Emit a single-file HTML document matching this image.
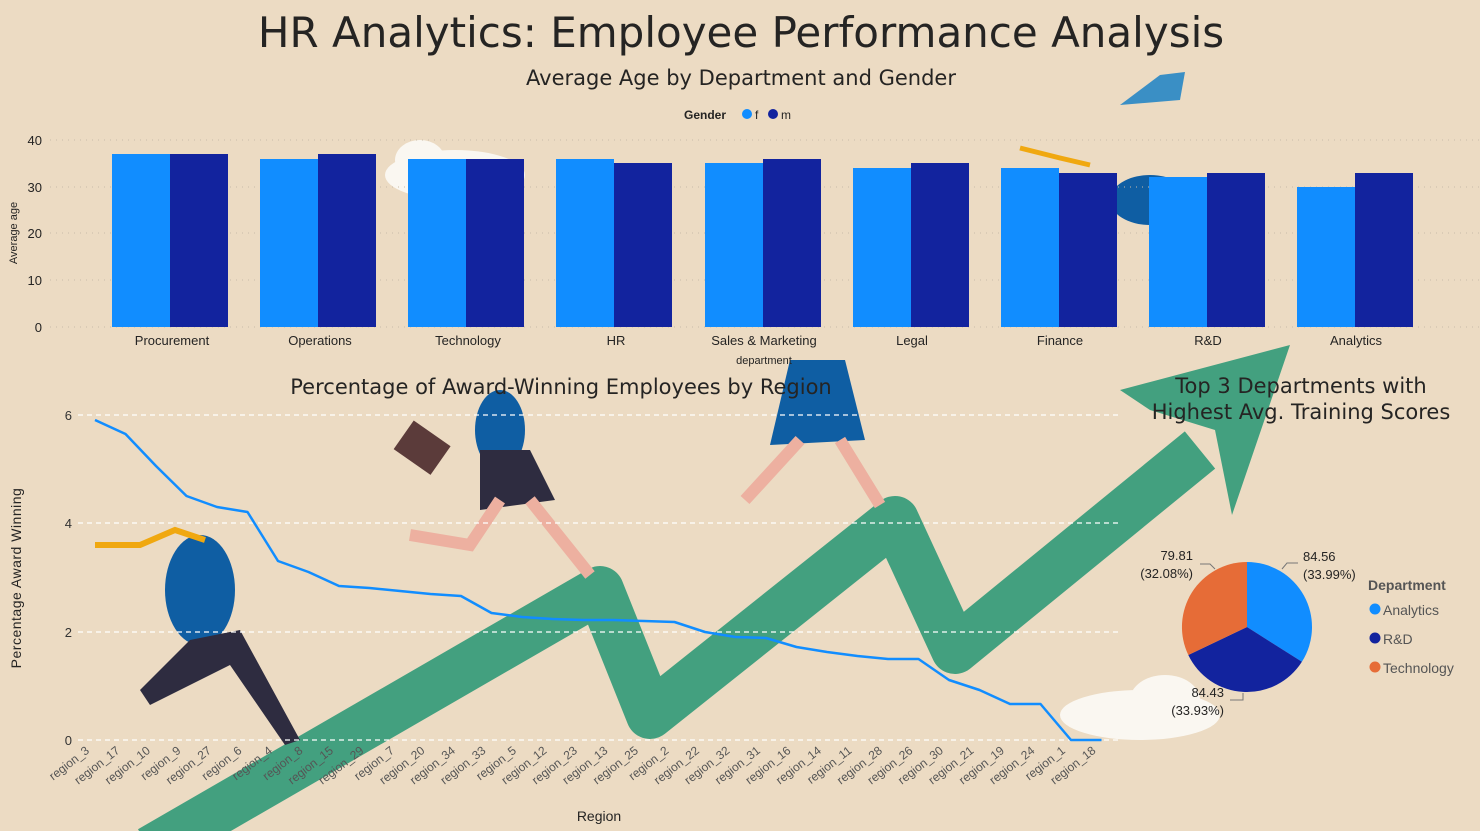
<!DOCTYPE html>
<html><head><meta charset="utf-8"><style>
body{margin:0;background:#ecdbc3;}
svg{display:block;font-family:"Liberation Sans","DejaVu Sans",sans-serif;}
.t{font-family:"DejaVu Sans",sans-serif;}
</style></head><body>
<svg width="1480" height="831" viewBox="0 0 1480 831" xmlns="http://www.w3.org/2000/svg">
<rect width="1480" height="831" fill="#ecdbc3"/>
<polyline points="150,850 600,590 650,715 895,520 955,650 1200,450" fill="none" stroke="#43a07f" stroke-width="48" stroke-linejoin="round"/>
<polygon points="1120,390 1290,345 1232,515 1215,430 1150,410" fill="#43a07f"/>
<ellipse cx="1140" cy="715" rx="80" ry="25" fill="#faf7f1"/>
<ellipse cx="1165" cy="700" rx="35" ry="25" fill="#faf7f1"/>
<ellipse cx="455" cy="175" rx="70" ry="25" fill="#faf7f1"/>
<ellipse cx="420" cy="160" rx="25" ry="20" fill="#faf7f1"/>
<g fill="#0f5ea3"><ellipse cx="200" cy="590" rx="35" ry="55"/><ellipse cx="500" cy="430" rx="25" ry="40"/><polygon points="790,360 845,360 865,440 770,445"/><ellipse cx="1150" cy="200" rx="40" ry="25"/></g>
<g fill="#2e2c40"><polygon points="190,640 240,630 300,740 285,745 230,665 150,705 140,690"/><polygon points="480,450 530,450 555,500 480,510"/></g>
<g stroke="#edb0a0" stroke-width="12" fill="none"><polyline points="500,500 470,545 410,535"/><polyline points="530,500 590,575"/><polyline points="800,440 745,500"/><polyline points="840,440 880,505"/></g>
<rect x="400" y="430" width="45" height="35" fill="#5b3b3a" transform="rotate(35 422 447)"/>
<polyline points="95,545 140,545 175,530 205,540" fill="none" stroke="#f0a810" stroke-width="6"/>
<polyline points="1020,148 1060,158 1090,165" fill="none" stroke="#f0a810" stroke-width="5"/>
<polygon points="1160,75 1185,72 1180,100 1120,105" fill="#3a8fc5"/>

<text class="t" x="741" y="47" font-size="42" text-anchor="middle" fill="#252423">HR Analytics: Employee Performance Analysis</text>
<text class="t" x="741" y="85" font-size="21" text-anchor="middle" fill="#252423">Average Age by Department and Gender</text>
<text x="684" y="119" font-size="12" font-weight="bold" fill="#252423">Gender</text>
<circle cx="747" cy="114" r="5" fill="#118dff"/><text x="755" y="119" font-size="12" fill="#252423">f</text>
<circle cx="773" cy="114" r="5" fill="#12239e"/><text x="781" y="119" font-size="12" fill="#252423">m</text>
<g stroke="#c8bba8" stroke-dasharray="1,5"><line x1="50" x2="1480" y1="140" y2="140"/><line x1="50" x2="1480" y1="187" y2="187"/><line x1="50" x2="1480" y1="233" y2="233"/><line x1="50" x2="1480" y1="280" y2="280"/><line x1="50" x2="1480" y1="327" y2="327"/></g>
<g font-size="13" fill="#252423" text-anchor="end"><text x="42" y="145">40</text><text x="42" y="192">30</text><text x="42" y="238">20</text><text x="42" y="285">10</text><text x="42" y="332">0</text></g>
<text transform="translate(17,233) rotate(-90)" font-size="11" text-anchor="middle" fill="#252423">Average age</text>
<g>
<rect x="112" y="154" width="58" height="173" fill="#118dff"/><rect x="170" y="154" width="58" height="173" fill="#12239e"/>
<rect x="260" y="159" width="58" height="168" fill="#118dff"/><rect x="318" y="154" width="58" height="173" fill="#12239e"/>
<rect x="408" y="159" width="58" height="168" fill="#118dff"/><rect x="466" y="159" width="58" height="168" fill="#12239e"/>
<rect x="556" y="159" width="58" height="168" fill="#118dff"/><rect x="614" y="163" width="58" height="164" fill="#12239e"/>
<rect x="705" y="163" width="58" height="164" fill="#118dff"/><rect x="763" y="159" width="58" height="168" fill="#12239e"/>
<rect x="853" y="168" width="58" height="159" fill="#118dff"/><rect x="911" y="163" width="58" height="164" fill="#12239e"/>
<rect x="1001" y="168" width="58" height="159" fill="#118dff"/><rect x="1059" y="173" width="58" height="154" fill="#12239e"/>
<rect x="1149" y="177" width="58" height="150" fill="#118dff"/><rect x="1207" y="173" width="58" height="154" fill="#12239e"/>
<rect x="1297" y="187" width="58" height="140" fill="#118dff"/><rect x="1355" y="173" width="58" height="154" fill="#12239e"/>
</g>
<g font-size="13" fill="#252423" text-anchor="middle">
<text x="172" y="345">Procurement</text><text x="320" y="345">Operations</text><text x="468" y="345">Technology</text><text x="616" y="345">HR</text><text x="764" y="345">Sales &amp; Marketing</text><text x="912" y="345">Legal</text><text x="1060" y="345">Finance</text><text x="1208" y="345">R&amp;D</text><text x="1356" y="345">Analytics</text>
</g>
<text x="764" y="364" font-size="11" text-anchor="middle" fill="#252423">department</text>

<text class="t" x="561" y="394" font-size="21" text-anchor="middle" fill="#252423">Percentage of Award-Winning Employees by Region</text>
<g stroke="#ffffff" stroke-dasharray="5,4" stroke-width="1.2"><line x1="78" x2="1118" y1="415" y2="415"/><line x1="78" x2="1118" y1="523" y2="523"/><line x1="78" x2="1118" y1="632" y2="632"/><line x1="78" x2="1118" y1="740" y2="740"/></g>
<g font-size="13" fill="#333" text-anchor="end"><text x="72" y="420">6</text><text x="72" y="528">4</text><text x="72" y="637">2</text><text x="72" y="745">0</text></g>
<text transform="translate(21,578) rotate(-90)" font-size="14" text-anchor="middle" fill="#252423" letter-spacing="0.5">Percentage Award Winning</text>
<polyline fill="none" stroke="#118dff" stroke-width="2.5" stroke-linejoin="round" points="95,420 125.5,434 156,466 186.5,496 217,507 247.5,512 278,561 308.5,572 339,586 369.5,588 400,591 430.5,594 461,596 491.5,613 522,617 552.5,619 583,620 613.5,620 644,621 674.5,622 705,632 735.5,637 766,638 796.5,647 827,652 857.5,656 888,659 918.5,659 949,680 979.5,690 1010,704 1040.5,704 1071,740 1101.5,740"/>
<g font-size="12" fill="#555" text-anchor="end">
<text transform="translate(90,752) rotate(-38)">region_3</text>
<text transform="translate(120.5,752) rotate(-38)">region_17</text>
<text transform="translate(151,752) rotate(-38)">region_10</text>
<text transform="translate(181.5,752) rotate(-38)">region_9</text>
<text transform="translate(212,752) rotate(-38)">region_27</text>
<text transform="translate(242.5,752) rotate(-38)">region_6</text>
<text transform="translate(273,752) rotate(-38)">region_4</text>
<text transform="translate(303.5,752) rotate(-38)">region_8</text>
<text transform="translate(334,752) rotate(-38)">region_15</text>
<text transform="translate(364.5,752) rotate(-38)">region_29</text>
<text transform="translate(395,752) rotate(-38)">region_7</text>
<text transform="translate(425.5,752) rotate(-38)">region_20</text>
<text transform="translate(456,752) rotate(-38)">region_34</text>
<text transform="translate(486.5,752) rotate(-38)">region_33</text>
<text transform="translate(517,752) rotate(-38)">region_5</text>
<text transform="translate(547.5,752) rotate(-38)">region_12</text>
<text transform="translate(578,752) rotate(-38)">region_23</text>
<text transform="translate(608.5,752) rotate(-38)">region_13</text>
<text transform="translate(639,752) rotate(-38)">region_25</text>
<text transform="translate(669.5,752) rotate(-38)">region_2</text>
<text transform="translate(700,752) rotate(-38)">region_22</text>
<text transform="translate(730.5,752) rotate(-38)">region_32</text>
<text transform="translate(761,752) rotate(-38)">region_31</text>
<text transform="translate(791.5,752) rotate(-38)">region_16</text>
<text transform="translate(822,752) rotate(-38)">region_14</text>
<text transform="translate(852.5,752) rotate(-38)">region_11</text>
<text transform="translate(883,752) rotate(-38)">region_28</text>
<text transform="translate(913.5,752) rotate(-38)">region_26</text>
<text transform="translate(944,752) rotate(-38)">region_30</text>
<text transform="translate(974.5,752) rotate(-38)">region_21</text>
<text transform="translate(1005,752) rotate(-38)">region_19</text>
<text transform="translate(1035.5,752) rotate(-38)">region_24</text>
<text transform="translate(1066,752) rotate(-38)">region_1</text>
<text transform="translate(1096.5,752) rotate(-38)">region_18</text>
</g>
<text x="599" y="821" font-size="14" text-anchor="middle" fill="#252423">Region</text>

<text class="t" x="1301" y="393" font-size="21" text-anchor="middle" fill="#252423">Top 3 Departments with</text>
<text class="t" x="1301" y="419" font-size="21" text-anchor="middle" fill="#252423">Highest Avg. Training Scores</text>
<path d="M1247,627 L1247,562 A65,65 0 0 1 1301.9,661.8 Z" fill="#118dff"/>
<path d="M1247,627 L1301.9,661.8 A65,65 0 0 1 1188.3,655 Z" fill="#12239e"/>
<path d="M1247,627 L1188.3,655 A65,65 0 0 1 1247,562 Z" fill="#e66c37"/>
<g stroke="#777" fill="none"><polyline points="1282,569 1287,563 1298,563"/><polyline points="1215,569 1210,564 1200,564"/><polyline points="1243,693 1243,700 1230,700"/></g>
<g font-size="13" fill="#252423">
<text x="1303" y="561">84.56</text><text x="1303" y="579">(33.99%)</text>
<text x="1193" y="560" text-anchor="end">79.81</text><text x="1193" y="578" text-anchor="end">(32.08%)</text>
<text x="1224" y="697" text-anchor="end">84.43</text><text x="1224" y="715" text-anchor="end">(33.93%)</text>
</g>
<text x="1368" y="590" font-size="14" font-weight="bold" fill="#555">Department</text>
<circle cx="1375" cy="609" r="5.5" fill="#118dff"/><text x="1383" y="615" font-size="14" fill="#555">Analytics</text>
<circle cx="1375" cy="638" r="5.5" fill="#12239e"/><text x="1383" y="644" font-size="14" fill="#555">R&amp;D</text>
<circle cx="1375" cy="667" r="5.5" fill="#e66c37"/><text x="1383" y="673" font-size="14" fill="#555">Technology</text>
</svg>
</body></html>
